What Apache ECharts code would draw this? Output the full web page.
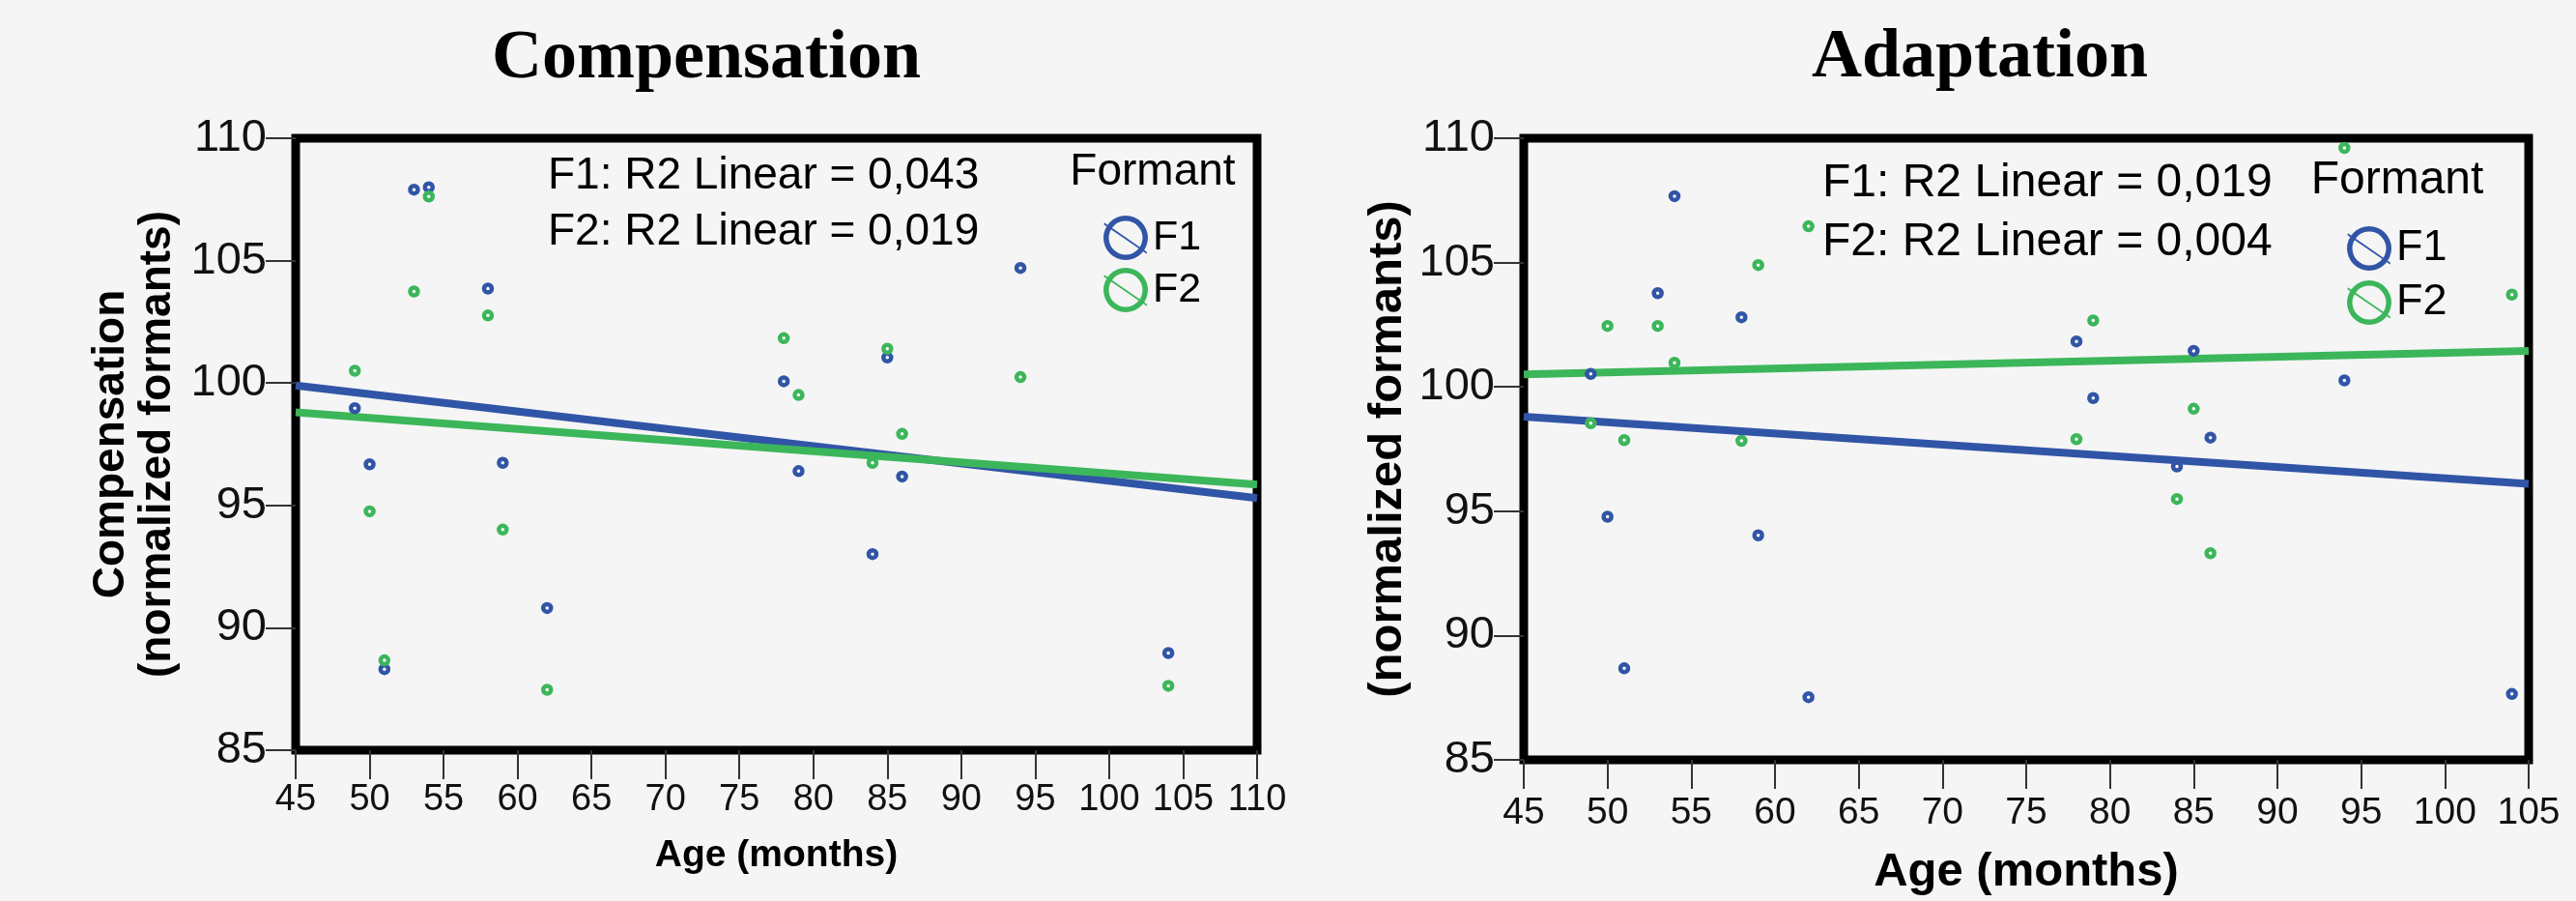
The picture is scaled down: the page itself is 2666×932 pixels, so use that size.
<!DOCTYPE html>
<html>
<head>
<meta charset="utf-8">
<title>Compensation / Adaptation</title>
<script src="https://cdn.jsdelivr.net/npm/echarts@6/dist/echarts.min.js"></script>
<style>
	html, body { margin: 0; padding: 0; background: #f5f5f5; }
	#main { width: 2666px; height: 932px; }
</style>
</head>
<body>
<div id="main"></div>
<script>
// age of each child (months), same for both panels
var age = [49, 50, 51, 53, 54, 58, 59, 62, 78, 79, 84, 85, 86, 94, 104];

// Compensation panel
var compF1 = [98.97, 96.68, 88.31, 107.9, 108.0, 103.86, 96.74, 90.81, 100.07, 96.4, 93.01, 101.04, 96.18, 104.7, 88.97];
var compF2 = [100.5, 94.76, 88.67, 103.74, 107.62, 102.76, 94.01, 87.47, 101.83, 99.51, 96.74, 101.4, 97.92, 100.24, 87.63];
var compFitX = [45, 110];
var compF1Fit = [99.9, 95.3];
var compF2Fit = [98.8, 95.85];

// Adaptation panel
var adaptF1 = [100.52, 94.78, 88.68, 103.77, 107.67, 102.8, 94.03, 87.52, 101.83, 99.55, 96.8, 101.45, 97.96, 100.26, 87.65];
var adaptF2 = [98.54, 102.45, 97.86, 102.45, 100.97, 97.83, 104.9, 106.46, 97.9, 102.67, 95.49, 99.12, 93.31, 109.61, 103.71];
var adaptFitX = [45, 105];
var adaptF1Fit = [98.8, 96.1];
var adaptF2Fit = [100.5, 101.45];

var BLUE = '#3155a6';
var GREEN = '#3cb65a';
var SANS = '"Liberation Sans", Arial, sans-serif';
var SERIF = '"Liberation Serif", "Times New Roman", serif';

// ring with a slash, like the SPSS legend marker
var RING = 'path://M50,0A50,50,0,1,1,50,100A50,50,0,1,1,50,0Z' +
	'M50,12A38,38,0,1,0,50,88A38,38,0,1,0,50,12Z' +
	'M2,16L98,82L97,86L1,20Z';

function toPoints(xs, ys) {
	var arr = [];
	for (var i = 0; i < xs.length; ++i) {
		arr.push([xs[i], ys[i]]);
	}
	return arr;
}

function xAxisOf(idx, max, labelSize, margin, nameSize, nameGap) {
	return {
		gridIndex: idx,
		type: 'value',
		min: 45,
		max: max,
		interval: 5,
		name: 'Age (months)',
		nameLocation: 'middle',
		nameGap: nameGap,
		nameTextStyle: { fontSize: nameSize, fontWeight: 'bold', color: '#000', fontFamily: SANS },
		axisLine: { show: false },
		axisTick: { show: true, length: 30, lineStyle: { color: '#333', width: 2 } },
		axisLabel: { fontSize: labelSize, color: '#111', margin: margin, fontFamily: SANS },
		splitLine: { show: false }
	};
}

function yAxisOf(idx, name, nameSize, lineHeight, nameGap) {
	return {
		gridIndex: idx,
		type: 'value',
		min: 85,
		max: 110,
		interval: 5,
		name: name,
		nameLocation: 'middle',
		nameGap: nameGap,
		nameTextStyle: { fontSize: nameSize, lineHeight: lineHeight, fontWeight: 'bold', color: '#000', fontFamily: SANS },
		axisLine: { show: false },
		axisTick: { show: true, length: 31, lineStyle: { color: '#333', width: 2 } },
		axisLabel: { fontSize: 47, color: '#111', margin: 30, fontFamily: SANS },
		splitLine: { show: false }
	};
}

function fitLine(idx, xs, ys, color) {
	return {
		type: 'line',
		xAxisIndex: idx,
		yAxisIndex: idx,
		data: toPoints(xs, ys),
		symbol: 'none',
		silent: true,
		z: 2,
		lineStyle: { color: color, width: 8 }
	};
}

// small thick ring with a light centre
function dots(idx, name, ys, color) {
	return {
		type: 'scatter',
		name: name,
		xAxisIndex: idx,
		yAxisIndex: idx,
		data: toPoints(age, ys),
		symbol: 'circle',
		symbolSize: 8,
		z: 3,
		itemStyle: { color: '#ffffff', borderColor: color, borderWidth: 4.5, opacity: 1 }
	};
}

function legendOf(left, top, gap, size) {
	return {
		orient: 'vertical',
		left: left,
		top: top,
		itemWidth: 46,
		itemHeight: 46,
		itemGap: gap,
		icon: RING,
		selectedMode: false,
		textStyle: { fontSize: size, color: '#000', fontFamily: SANS },
		data: [
			{ name: 'F1', itemStyle: { color: BLUE, borderWidth: 0 } },
			{ name: 'F2', itemStyle: { color: GREEN, borderWidth: 0 } }
		]
	};
}

function label(x, y, text, font, align) {
	return {
		type: 'text',
		x: x,
		y: y,
		style: {
			text: text,
			font: font,
			fill: '#000',
			align: align,
			textAlign: align,
			verticalAlign: 'middle',
			textVerticalAlign: 'middle'
		}
	};
}

var myChart = echarts.init(document.getElementById('main'), null, { renderer: 'canvas' });

var option = {
	backgroundColor: '#f5f5f5',
	animation: false,
	grid: [{
		left: 306, right: 1365, top: 143, bottom: 156,
		show: true, borderColor: '#000', borderWidth: 9, backgroundColor: 'transparent'
	}, {
		left: 1577, right: 49, top: 143, bottom: 138,
		show: true, borderColor: '#000', borderWidth: 9, backgroundColor: 'transparent'
	}],
	xAxis: [
		xAxisOf(0, 110, 38, 33, 39, 90),
		xAxisOf(1, 105, 39, 36, 49, 92)
	],
	yAxis: [
		yAxisOf(0, 'Compensation\n(normalized formants)', 46, 48, 119),
		yAxisOf(1, '(normalized formants)', 49, 49, 116)
	],
	legend: [
		legendOf(1137, 218, 8, 43),
		legendOf(2424, 229, 10, 45)
	],
	graphic: [
		label(731, 61, 'Compensation', 'bold 72px ' + SERIF, 'center'),
		label(2049, 60, 'Adaptation', 'bold 72px ' + SERIF, 'center'),
		label(567, 182, 'F1: R2 Linear = 0,043', '46px ' + SANS, 'left'),
		label(567, 240, 'F2: R2 Linear = 0,019', '46px ' + SANS, 'left'),
		label(1886, 190, 'F1: R2 Linear = 0,019', '48px ' + SANS, 'left'),
		label(1886, 251, 'F2: R2 Linear = 0,004', '48px ' + SANS, 'left'),
		label(1193, 178, 'Formant', '46px ' + SANS, 'center'),
		label(2481, 187, 'Formant', '48px ' + SANS, 'center')
	],
	series: [
		fitLine(0, compFitX, compF1Fit, BLUE),
		fitLine(0, compFitX, compF2Fit, GREEN),
		fitLine(1, adaptFitX, adaptF1Fit, BLUE),
		fitLine(1, adaptFitX, adaptF2Fit, GREEN),
		dots(0, 'F1', compF1, BLUE),
		dots(0, 'F2', compF2, GREEN),
		dots(1, 'F1', adaptF1, BLUE),
		dots(1, 'F2', adaptF2, GREEN)
	]
};

myChart.setOption(option);
</script>
</body>
</html>
